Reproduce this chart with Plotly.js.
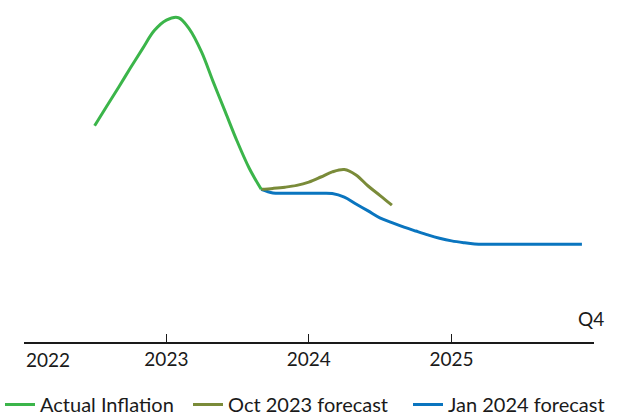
<!DOCTYPE html>
<html>
<head>
<meta charset="utf-8">
<script src="https://cdn.plot.ly/plotly-3.0.1.min.js"></script>
<style>
html,body{margin:0;padding:0;background:#fff;}
#chart{width:618px;height:417px;}
</style>
</head>
<body>
<div id="chart"></div>
<script>
// Actual inflation, Jul 2022 – Sep 2023
var actualMonths = ['2022-07-01','2022-08-01','2022-09-01','2022-10-01','2022-11-01','2022-12-01',
  '2023-01-01','2023-02-01','2023-03-01','2023-04-01','2023-05-01','2023-06-01','2023-07-01','2023-08-01','2023-09-01'];
var actualValues = [7.21, 7.86, 8.50, 9.14, 9.78, 10.38, 10.73, 10.81, 10.43, 9.67, 8.67, 7.67, 6.70, 5.80, 5.09];

// Oct 2023 forecast, Sep 2023 – Aug 2024
var octMonths = ['2023-09-01','2023-10-01','2023-11-01','2023-12-01','2024-01-01','2024-02-01',
  '2024-03-01','2024-04-01','2024-05-01','2024-06-01','2024-07-01','2024-08-01'];
var octValues = [5.09, 5.12, 5.16, 5.22, 5.33, 5.50, 5.67, 5.75, 5.57, 5.20, 4.89, 4.56];

// Jan 2024 forecast, Sep 2023 – Dec 2025
var janMonths = ['2023-09-01','2023-10-01','2023-11-01','2023-12-01',
  '2024-01-01','2024-02-01','2024-03-01','2024-04-01','2024-05-01','2024-06-01',
  '2024-07-01','2024-08-01','2024-09-01','2024-10-01','2024-11-01','2024-12-01',
  '2025-01-01','2025-02-01','2025-03-01','2025-04-01','2025-05-01','2025-06-01',
  '2025-07-01','2025-08-01','2025-09-01','2025-10-01','2025-11-01','2025-12-01'];
var janValues = [5.09, 4.97, 4.96, 4.96, 4.96, 4.96, 4.95, 4.83, 4.60, 4.37, 4.14, 3.98,
  3.83, 3.70, 3.57, 3.46, 3.37, 3.31, 3.27, 3.26, 3.26, 3.26, 3.26, 3.26, 3.26, 3.26, 3.26, 3.26];

// Axis ticks
var tickDates = ['2023-01-01','2024-01-01','2025-01-01','2026-01-01'];
var tickLabels = ['2023','2024','2025',''];
var firstYearLabel = '2022';
var endLabel = 'Q4';

var seriesNames = ['Actual Inflation','Oct 2023 forecast','Jan 2024 forecast'];
var colors = ['#3BB54A','#7A8B39','#0A75BF'];

var FONT = 'Lato, "Open Sans", sans-serif';

var traces = [
  {x: janMonths, y: janValues, name: seriesNames[2], legend: 'legend3', mode: 'lines',
   line: {color: colors[2], width: 3, shape: 'spline', smoothing: 1}, hoverinfo: 'skip'},
  {x: octMonths, y: octValues, name: seriesNames[1], legend: 'legend2', mode: 'lines',
   line: {color: colors[1], width: 3, shape: 'spline', smoothing: 1}, hoverinfo: 'skip'},
  {x: actualMonths, y: actualValues, name: seriesNames[0], legend: 'legend', mode: 'lines',
   line: {color: colors[0], width: 3, shape: 'spline', smoothing: 1}, hoverinfo: 'skip'}
];

function legendAt(xFrac) {
  return {orientation: 'h', xref: 'container', yref: 'container', x: xFrac, xanchor: 'left',
    y: 0.03, yanchor: 'middle', font: {family: FONT, size: 20, color: '#1a1a1a'},
    itemwidth: 30, bgcolor: 'rgba(0,0,0,0)'};
}

var layout = {
  width: 618, height: 417,
  margin: {l: 24, r: 24, t: 12, b: 75},
  paper_bgcolor: '#fff', plot_bgcolor: '#fff',
  font: {family: FONT, size: 19, color: '#1a1a1a'},
  showlegend: true,
  legend: legendAt(0.0),
  legend2: legendAt(0.3042),
  legend3: legendAt(0.6602),
  xaxis: {type: 'date', range: ['2022-01-01','2026-01-01'], showgrid: false, zeroline: false,
    showline: true, linecolor: '#1a1a1a', linewidth: 1.5,
    ticks: 'inside', ticklen: 8, tickwidth: 1.2, tickcolor: '#1a1a1a',
    tickmode: 'array', tickvals: tickDates, ticktext: tickLabels,
    tickfont: {family: FONT, size: 19, color: '#1a1a1a'}, fixedrange: true},
  yaxis: {range: [0, 11], visible: false, fixedrange: true},
  annotations: [
    {x: '2022-01-01', xref: 'x', y: 0, yref: 'paper', text: firstYearLabel, showarrow: false,
     xanchor: 'left', yanchor: 'top', xshift: 0, yshift: -4, font: {family: FONT, size: 19, color: '#1a1a1a'}},
    {x: '2026-01-01', xref: 'x', y: 0, yref: 'paper', text: endLabel, showarrow: false,
     xanchor: 'center', yanchor: 'bottom', xshift: -3, yshift: 10, font: {family: FONT, size: 19, color: '#1a1a1a'}}
  ]
};

Plotly.newPlot('chart', traces, layout, {displayModeBar: false, staticPlot: true});
</script>
</body>
</html>
